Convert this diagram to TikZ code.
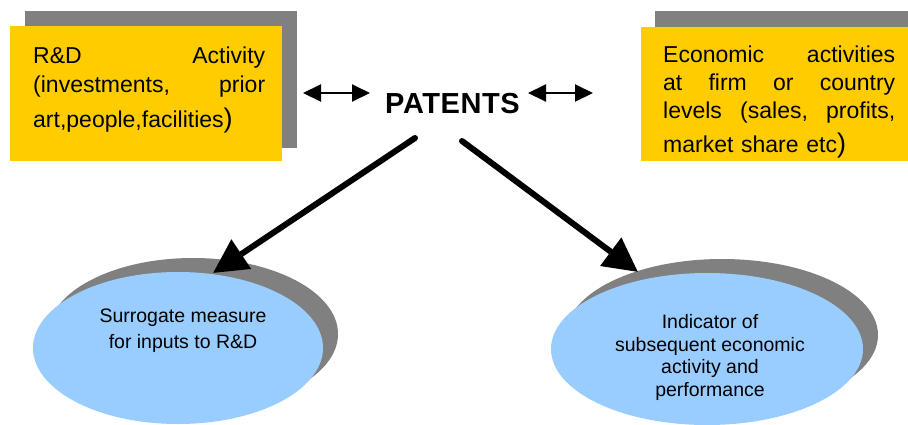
\documentclass[tikz,border=0pt]{standalone}
\usepackage{fontspec}
\setmainfont{Liberation Sans}
\usetikzlibrary{arrows.meta,shapes.geometric}
\definecolor{boxyellow}{HTML}{FFCC00}
\definecolor{shadowgrey}{HTML}{808080}
\definecolor{ovalblue}{HTML}{99CCFF}
\begin{document}
\begin{tikzpicture}[x=1pt,y=-1pt,
  rectshape/.style={draw=none, inner sep=0pt, outer sep=0pt, anchor=north west},
  shadowrect/.style={rectshape, fill=shadowgrey},
  yellowrect/.style={rectshape, fill=boxyellow},
  boxtext/.style={inner sep=0pt, anchor=north west, text width=232pt, align=left},
  shadowoval/.style={ellipse, fill=shadowgrey, draw=none, inner sep=0pt},
  blueoval/.style={ellipse, fill=ovalblue, draw=none, inner sep=0pt},
  ovaltext/.style={inner sep=0pt, align=center},
  dblarrow/.style={line width=2pt, {Triangle[length=18pt,width=17pt]}-{Triangle[length=18pt,width=17pt]}},
  bigarrow/.style={line width=6pt, line cap=round, -{Triangle[length=34pt,width=34pt]}}
]
\useasboundingbox (0,0) rectangle (908,424);
\fill[white] (0,0) rectangle (908,424);

% left box
\node[shadowrect, minimum width=272pt, minimum height=137pt] (lshadow) at (25,11) {};
\node[yellowrect, minimum width=272pt, minimum height=135pt] (lbox) at (10,26) {};
\node[boxtext, font=\fontsize{23}{29}\selectfont] (ltext) at (33,46.5)
  {R\&D\hfill Activity\\
   (investments,\hfill prior\\[6pt]
   art,people,facilities{\fontsize{27}{27}\selectfont)}};

% right box
\node[shadowrect, minimum width=280pt, minimum height=137pt] (rshadow) at (655,11) {};
\node[yellowrect, minimum width=280pt, minimum height=134pt] (rbox) at (641,27) {};
\node[boxtext, font=\fontsize{23}{28}\selectfont] (rtext) at (663,45.5)
  {Economic\hfill activities\\
   at\hfill firm\hfill or\hfill country\\
   levels\hfill (sales,\hfill profits,\\[6pt]
   market share etc{\fontsize{27}{27}\selectfont)}};

% PATENTS
\node[inner sep=0pt, anchor=base, font=\bfseries\fontsize{29}{29}\selectfont\addfontfeature{LetterSpace=2}] (pat) at (452.5,113) {PATENTS};

% ovals
\node[shadowoval, minimum width=290pt, minimum height=152pt] (lovalsh) at (193,334) {};
\node[blueoval, minimum width=290pt, minimum height=152pt] (loval) at (178,348) {};
\node[ovaltext, font=\fontsize{19.5}{26}\selectfont] (lovaltext) at (183,331) {Surrogate measure\\for inputs to R\&D};

\node[shadowoval, minimum width=312pt, minimum height=152pt] (rovalsh) at (722,335) {};
\node[blueoval, minimum width=312pt, minimum height=152pt] (roval) at (707,349) {};
\node[ovaltext, font=\fontsize{19.5}{22.5}\selectfont] (rovaltext) at (710,357.5) {Indicator of\\subsequent economic\\activity and\\performance};

% connectors
\coordinate (la1) at (303,93);
\coordinate (la2) at (370,93);
\coordinate (ra1) at (528,93);
\coordinate (ra2) at (593,93);
\draw[dblarrow] (la1) -- (la2);
\draw[dblarrow] (ra1) -- (ra2);

\coordinate (patL) at (415,138);
\coordinate (patR) at (462,141);
\coordinate (ltip) at (213,273);
\coordinate (rtip) at (638,272);
\draw[bigarrow] (patL) -- (ltip);
\draw[bigarrow] (patR) -- (rtip);
\end{tikzpicture}
\end{document}
